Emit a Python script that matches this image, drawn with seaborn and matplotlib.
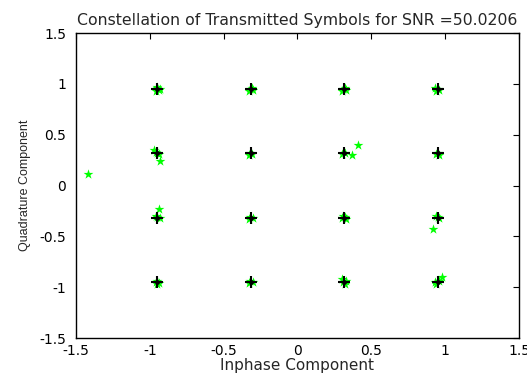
import matplotlib
matplotlib.use("Agg")
import matplotlib.pyplot as plt
import seaborn as sns
import pandas as pd

sns.set_style("white")
plt.rcParams['font.family'] = ['DejaVu Sans']

# Received (noisy) symbols
rx_i = [-0.95, -0.94, -0.96, -0.93, -0.95,
        -0.32, -0.30, -0.33, -0.31,
        0.31, 0.33, 0.30, 0.32,
        0.93, 0.95, 0.96, 0.94,
        -0.97, -0.93, -0.95, -0.94, -0.96,
        -0.32, -0.31, -0.33,
        0.41, 0.37, 0.32, 0.30,
        0.95, 0.94, 0.96,
        -0.94, -0.95, -0.93, -0.96,
        -0.32, -0.30, -0.33,
        0.32, 0.30, 0.33, 0.31,
        0.92, 0.95, 0.96, 0.94,
        -0.95, -0.94, -0.96, -0.95,
        -0.32, -0.30, -0.33,
        0.30, 0.33, 0.32, 0.31,
        0.98, 0.94, 0.96, 0.93,
        -1.42]
rx_q = [0.96, 0.94, 0.93, 0.95, 0.97,
        0.95, 0.94, 0.93, 0.96,
        0.95, 0.94, 0.93, 0.96,
        0.96, 0.95, 0.94, 0.93,
        0.35, 0.245, 0.32, 0.31, 0.33,
        0.32, 0.31, 0.30,
        0.40, 0.30, 0.32, 0.31,
        0.32, 0.31, 0.30,
        -0.23, -0.31, -0.32, -0.30,
        -0.31, -0.32, -0.33,
        -0.31, -0.32, -0.33, -0.30,
        -0.43, -0.31, -0.32, -0.30,
        -0.94, -0.96, -0.95, -0.97,
        -0.94, -0.95, -0.96,
        -0.92, -0.94, -0.97, -0.95,
        -0.90, -0.97, -0.94, -0.95,
        0.11]

# Ideal 16-QAM constellation
levels = [-0.9487, -0.3162, 0.3162, 0.9487]
ideal_i = [i for i in levels for q in levels]
ideal_q = [q for i in levels for q in levels]

x_ticks = [-1.5, -1, -0.5, 0, 0.5, 1, 1.5]
x_labels = ["-1.5", "-1", "-0.5", "0", "0.5", "1", "1.5"]
y_ticks = [-1.5, -1, -0.5, 0, 0.5, 1, 1.5]
y_labels = ["-1.5", "-1", "-0.5", "0", "0.5", "1", "1.5"]

rx = pd.DataFrame({"I": rx_i, "Q": rx_q})
ideal = pd.DataFrame({"I": ideal_i, "Q": ideal_q})

fig = plt.figure(figsize=(5.27, 3.76), dpi=100)
ax = fig.add_axes([0.144, 0.101, 0.841, 0.811])

sns.scatterplot(data=rx, x="I", y="Q", ax=ax, color="#00ff00", marker="*",
                s=55, linewidth=0, zorder=2, legend=False)
sns.scatterplot(data=ideal, x="I", y="Q", ax=ax, color="black", marker="+",
                s=65, linewidths=1.5, zorder=3, legend=False)
sns.scatterplot(data=ideal, x="I", y="Q", ax=ax, color="black", marker="o",
                s=12, linewidth=0, zorder=4, legend=False)

ax.set_xlim(-1.5, 1.5)
ax.set_ylim(-1.5, 1.5)
ax.set_xticks(x_ticks)
ax.set_xticklabels(x_labels)
ax.set_yticks(y_ticks)
ax.set_yticklabels(y_labels)
ax.tick_params(axis="both", direction="in", length=4, width=0.8, top=True,
               right=True, labelsize=10, colors="black")
ax.tick_params(axis="x", pad=4)
ax.tick_params(axis="y", pad=7)
for sp in ax.spines.values():
    sp.set_visible(True)
    sp.set_color("black")
    sp.set_linewidth(1.0)

ax.set_xlabel("Inphase Component", fontsize=11, labelpad=0)
ax.set_ylabel("Quadrature Component", fontsize=9,
              family=['Liberation Sans Narrow', 'Liberation Sans', 'DejaVu Sans'],
              labelpad=6)
ax.set_title("Constellation of Transmitted Symbols for SNR =50.0206",
             fontsize=11.3, pad=6)

fig.savefig("out.png", dpi=100, facecolor="white")
